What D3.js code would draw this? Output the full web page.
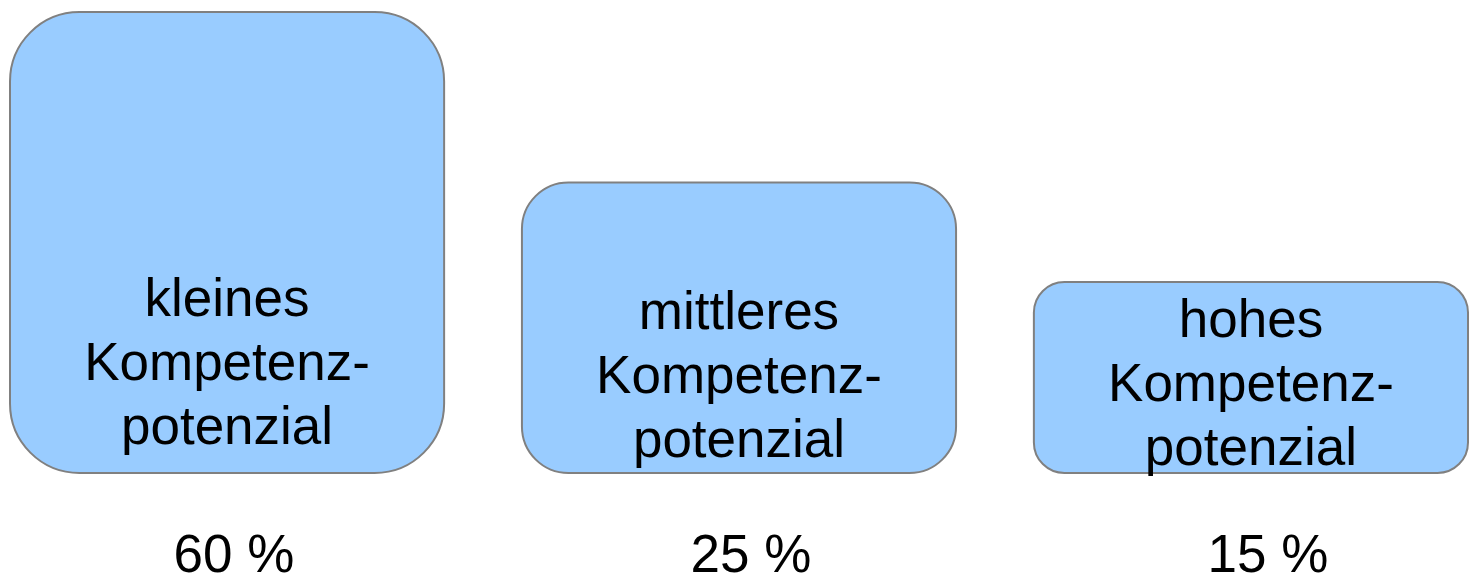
<!DOCTYPE html>
<html>
<head>
<meta charset="utf-8">
<script src="https://cdn.jsdelivr.net/npm/d3@7"></script>
<style>
  html, body { margin: 0; padding: 0; background: #fff; }
  svg { display: block; }
</style>
</head>
<body>
<svg width="1470" height="575"></svg>
<script>
// categories (box labels, one entry per line) and shares
var categories = ["kleines", "mittleres", "hohes"];
var labelLines = [
  ["kleines", "Kompetenz-", "potenzial"],
  ["mittleres", "Kompetenz-", "potenzial"],
  ["hohes", "Kompetenz-", "potenzial"]
];
var shares = [60, 25, 15];
var shareLabels = ["60 %", "25 %", "15 %"];

var data = categories.map(function(c, i) {
  return { cat: c, lines: labelLines[i], value: shares[i], label: shareLabels[i] };
});

var svg = d3.select("svg");
var baseline = 473;
var fontSize = 53, lineHeight = 64;

//boxes sit side by side, height grows with share
var x = d3.scaleBand().domain(categories).range([10, 1468]).paddingInner(0.152).paddingOuter(0);
var h = d3.scaleLog().domain([15, 60]).range([191, 461]);
//share labels below sit on their own spacing
var xLabel = d3.scalePoint().domain(categories).range([234, 1268]);

var boxes = svg.selectAll(".box")
  .data(data)
  .enter().append("g")
  .attr("class", "box");

boxes.append("rect")
  .attr("x", function(d) { return x(d.cat); })
  .attr("y", function(d) { return baseline - h(d.value); })
  .attr("width", x.bandwidth())
  .attr("height", function(d) { return h(d.value); })
  .attr("rx", function(d) { return 0.16 * Math.min(x.bandwidth(), h(d.value)); })
  .attr("fill", "#99ccff")
  .attr("stroke", "#808080")
  .attr("stroke-width", 2);

//label block, middle line sits a bit higher in tall boxes
boxes.append("text")
  .attr("text-anchor", "middle")
  .attr("font-family", "'Liberation Sans', Arial, sans-serif")
  .attr("font-size", fontSize)
  .attr("fill", "#000")
  .each(function(d) {
    var cx = x(d.cat) + x.bandwidth() / 2;
    var midBase = 397 - 0.075 * h(d.value) + 18;
    d3.select(this).selectAll("tspan")
      .data(d.lines)
      .enter().append("tspan")
      .attr("x", cx)
      .attr("y", function(l, i) { return midBase + (i - 1) * lineHeight; })
      .text(function(l) { return l; });
  });

svg.selectAll(".share")
  .data(data)
  .enter().append("text")
  .attr("class", "share")
  .attr("x", function(d) { return xLabel(d.cat); })
  .attr("y", 572)
  .attr("text-anchor", "middle")
  .attr("font-family", "'Liberation Sans', Arial, sans-serif")
  .attr("font-size", fontSize)
  .attr("fill", "#000")
  .text(function(d) { return d.label; });
</script>
</body>
</html>
